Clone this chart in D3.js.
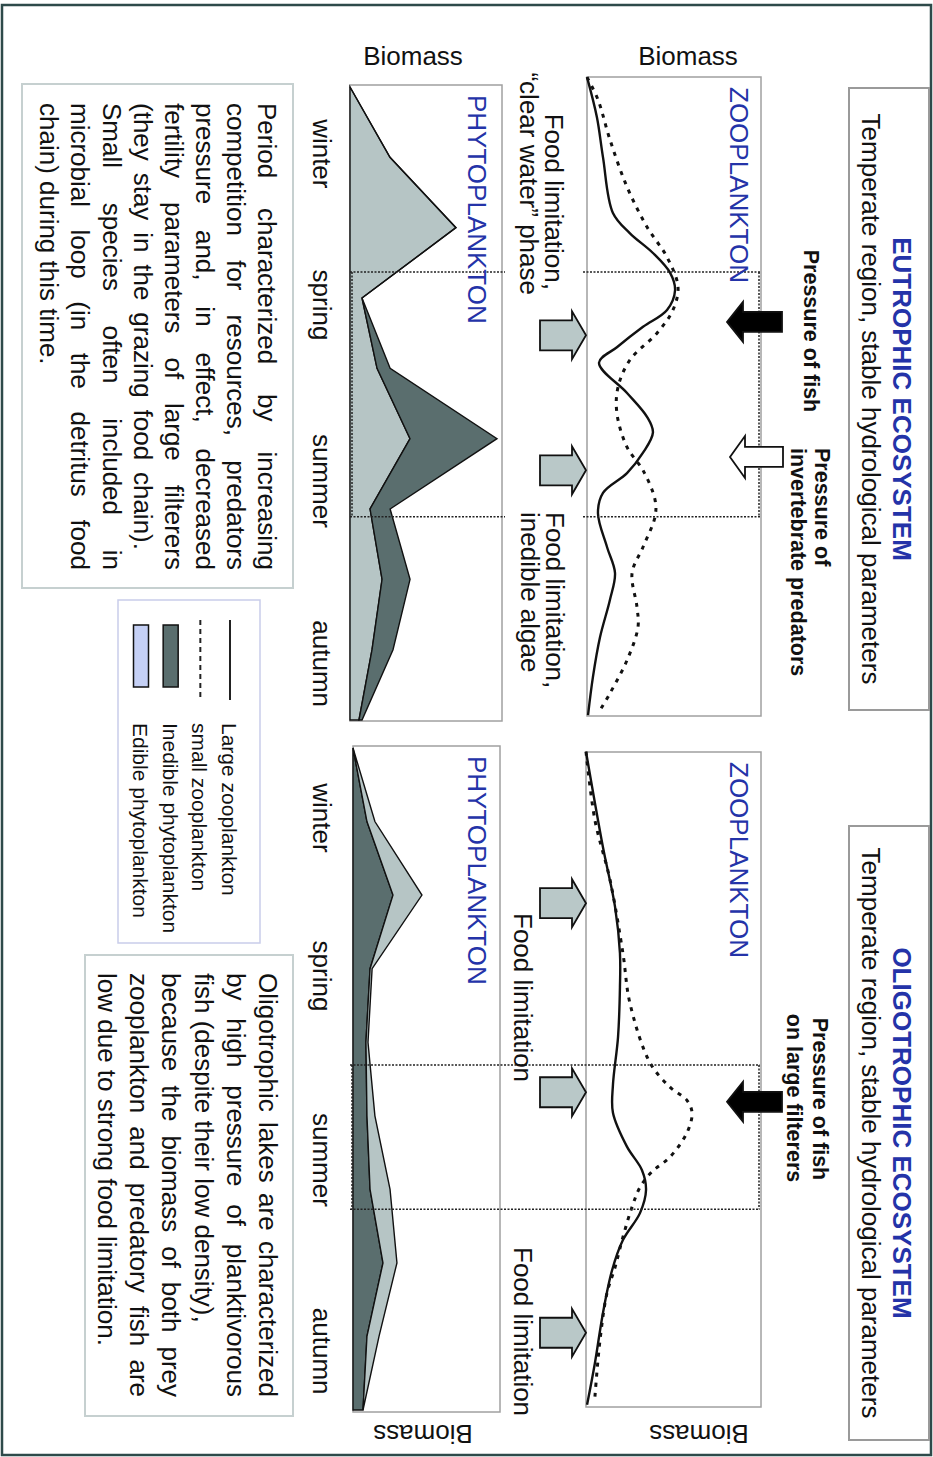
<!DOCTYPE html>
<html>
<head>
<meta charset="utf-8">
<script src="https://cdn.jsdelivr.net/npm/d3@7"></script>
<style>
  body { margin: 0; background: #fff; }
  svg { display: block; }
  text { font-family: "Liberation Sans", Arial, Helvetica, sans-serif; }
</style>
</head>
<body>
<div id="chart"></div>
<script>
// ---- data (time in sampling steps 0..9, biomass in relative units 0..100) ----
var seasons = ["winter", "spring", "summer", "autumn"];
var seasonT = [0.95, 3.1, 5.6, 8.2];

// eutrophic lake
var eutroLargeT = [-0.14, 0.43, 1.00, 1.79, 2.08, 2.36, 2.64, 2.89, 3.17, 3.41, 3.70, 3.92, 4.35, 4.69, 4.91, 5.20, 5.49, 5.77, 6.06, 6.54, 6.91, 7.29, 7.82, 8.39, 8.93];
var eutroLargeV = [0, 5.7, 9.2, 14.9, 24.7, 37.9, 47.7, 50.6, 46.0, 32.2, 17.2, 6.9, 23.0, 34.5, 37.9, 32.2, 23.0, 9.2, 6.3, 11.5, 16.1, 13.2, 7.5, 3.4, 0.6];
var eutroSmallT = [-0.14, 0.18, 0.75, 1.42, 1.99, 2.42, 2.84, 3.17, 3.50, 3.88, 4.27, 4.64, 5.12, 5.45, 5.87, 6.11, 6.54, 6.91, 7.39, 7.68, 8.15, 8.62, 8.86];
var eutroSmallV = [0, 6.3, 13.2, 23.0, 34.5, 46.0, 52.3, 49.4, 40.2, 24.7, 17.8, 17.2, 23.0, 32.2, 39.1, 39.1, 32.2, 25.9, 28.7, 29.3, 23.0, 13.2, 7.5];
var eutroEdible   = [0, 26.3, 69.7, 7.9, 17.8, 39.5, 13.2, 21.1, 14.5, 5.9];
var eutroInedible = [0, 0, 0, 0, 8.6, 57.2, 13.2, 18.4, 13.8, 2.0];
var eutroPhase = [2.63, 6.11];

// oligotrophic lake
var oligoLargeT = [0.05, 1.35, 2.16, 2.79, 3.25, 3.93, 4.58, 4.96, 5.42, 5.74, 6.01, 6.32, 6.69, 7.10, 7.68, 8.36, 8.93];
var oligoLargeV = [0, 9.7, 16.6, 19.4, 19.4, 18.3, 15.4, 15.4, 23.4, 32.0, 34.3, 30.9, 21.1, 14.9, 9.7, 5.1, 0.6];
var oligoSmallT = [0.05, 0.98, 1.79, 2.79, 3.47, 4.28, 4.61, 4.79, 4.96, 5.23, 5.56, 5.76, 5.97, 6.24, 6.65, 7.06, 7.41, 8.05, 8.82];
var oligoSmallV = [0, 5.1, 13.7, 21.1, 25.1, 36.6, 48.0, 57.7, 60.6, 57.7, 48.0, 37.7, 30.9, 26.3, 21.1, 16.6, 12.0, 8.0, 5.1];
var oligoInedible = [0, 9.5, 27.2, 11.6, 8.8, 9.5, 11.6, 20.4, 9.5, 6.8];
var oligoEdible   = [0, 5.4, 19.7, 1.4, 1.4, 5.4, 13.6, 9.5, 8.2, 0];
var oligoPhase = [4.31, 6.27];

var legendLabels = ["Large zooplankton", "small zooplankton", "Inedible phytoplankton", "Edible phytoplankton"];

var eutroText = [
  {s: "Period characterized by increasing", end: 570},
  {s: "competition for resources, predators", end: 570},
  {s: "pressure and, in effect, decreased", end: 570},
  {s: "fertility parameters of large filterers", end: 570},
  {s: "(they stay in the grazing food chain).", end: 550},
  {s: "Small species often included in", end: 570},
  {s: "microbial loop (in the detritus food", end: 570},
  {s: "chain) during this time.", end: null}
];
var oligoText = [
  {s: "Oligotrophic lakes are characterized", end: 1397},
  {s: "by high pressure of planktivorous", end: 1397},
  {s: "fish (despite their low density),", end: null},
  {s: "because the biomass of both prey", end: 1397},
  {s: "zooplankton and predatory fish are", end: 1397},
  {s: "low due to strong food limitation.", end: null}
];

// ---- drawing ----
var W = 933, H = 1457;
var blue = "#2433a8", dark = "#5a6e6e", light = "#b6c5c5", arrowGrey = "#b9c8c8";

var svg = d3.select("#chart").append("svg")
    .attr("width", W)
    .attr("height", H);
svg.append("rect").attr("width", W).attr("height", H).attr("fill", "#fff");

// the figure is landscape, turned a quarter clockwise
var g = svg.append("g").attr("transform", "translate(" + W + ",0) rotate(90)");

g.append("rect")
    .attr("x", 5).attr("y", 2).attr("width", 1450).attr("height", 929)
    .attr("fill", "none").attr("stroke", "#2e4a4a").attr("stroke-width", 2.5);

function zip(a, b) { return a.map(function(d, i) { return [d, b[i]]; }); }

function label(x, y, s, o) {
  o = o || {};
  var t = g.append("text")
      .attr("x", x).attr("y", y)
      .attr("font-size", o.size || 26)
      .attr("fill", o.fill || "#111")
      .attr("font-weight", o.bold ? "bold" : null)
      .attr("text-anchor", o.anchor || "start")
      .text(s);
  if (o.rotate) t.attr("transform", "rotate(" + o.rotate + "," + x + "," + y + ")");
  return t;
}

function arrow(cx, tail, base, tip, sw, hw, fill) {
  var pts = [[cx - sw, tail], [cx - sw, base], [cx - hw, base], [cx, tip],
             [cx + hw, base], [cx + sw, base], [cx + sw, tail]];
  g.append("path")
      .attr("d", d3.line()(pts) + "Z")
      .attr("fill", fill)
      .attr("stroke", "#111")
      .attr("stroke-width", 1.8)
      .attr("stroke-linejoin", "miter");
}

function drawSystem(c) {
  var x = d3.scaleLinear().domain([0, 9]).range(c.tRange);
  var yz = d3.scaleLinear().domain([0, 100]).range(c.zooY);
  var yp = d3.scaleLinear().domain([0, 100]).range(c.phyY);

  // title box
  g.append("rect").attr("x", c.title[0]).attr("y", 4)
      .attr("width", c.title[1] - c.title[0]).attr("height", 80)
      .attr("fill", "none").attr("stroke", "#9a9a9a").attr("stroke-width", 2);
  var tc = (c.title[0] + c.title[1]) / 2;
  label(tc, 40, c.name, {bold: true, fill: blue, anchor: "middle"});
  label(tc, 71, "Temperate region, stable hydrological parameters", {anchor: "middle"});

  // panel frames
  [c.zooBox, c.phyBox].forEach(function(b) {
    g.append("rect").attr("x", b[0]).attr("y", b[2])
        .attr("width", b[1] - b[0]).attr("height", b[3] - b[2])
        .attr("fill", "none").attr("stroke", "#a0a0a0").attr("stroke-width", 1.5);
  });

  // phytoplankton stacked areas
  var lower = c.lower, upper = c.upper;
  var area = d3.area().x(function(d, i) { return x(i); });
  g.append("path").datum(lower.values)
      .attr("d", area.y0(yp(0)).y1(function(d) { return yp(d); }))
      .attr("fill", lower.color).attr("stroke", "#111").attr("stroke-width", 1.4);
  var area2 = d3.area().x(function(d, i) { return x(i); })
      .y0(function(d, i) { return yp(lower.values[i]); })
      .y1(function(d, i) { return yp(lower.values[i] + d); });
  g.append("path").datum(upper.values)
      .attr("d", area2)
      .attr("fill", upper.color).attr("stroke", "#111").attr("stroke-width", 1.4);

  // zooplankton curves
  var line = d3.line()
      .x(function(d) { return x(d[0]); })
      .y(function(d) { return yz(d[1]); })
      .curve(d3.curveCatmullRom.alpha(0.5));
  g.append("path").datum(zip(c.smallT, c.smallV))
      .attr("d", line).attr("fill", "none").attr("stroke", "#111")
      .attr("stroke-width", 3).attr("stroke-dasharray", "4,6");
  g.append("path").datum(zip(c.largeT, c.largeV))
      .attr("d", line).attr("fill", "none").attr("stroke", "#111")
      .attr("stroke-width", 2.4);

  // dotted phase frame
  var dot = function(sel) {
    return sel.attr("fill", "none").attr("stroke", "#222")
        .attr("stroke-width", 1.5).attr("stroke-dasharray", "2,1.5");
  };
  c.phase.forEach(function(t) {
    c.phaseSegs.forEach(function(s) {
      dot(g.append("line").attr("x1", x(t)).attr("x2", x(t)).attr("y1", s[0]).attr("y2", s[1]));
    });
  });
  [174, 581].forEach(function(yy) {
    dot(g.append("line").attr("x1", x(c.phase[0])).attr("x2", x(c.phase[1]))
        .attr("y1", yy).attr("y2", yy));
  });

  // arrows
  c.grey.forEach(function(t) { arrow(x(t), 393, 361, 347, 15, 24, arrowGrey); });
  c.black.forEach(function(t) { arrow(x(t), 151, 190, 206, 10, 20, "#000"); });
  c.white.forEach(function(t) { arrow(x(t), 150, 188, 203, 10, 21, "#fff"); });

  // panel names, axis titles, seasons
  label(c.zooBox[0] + 10, 203, "ZOOPLANKTON", {fill: blue});
  label(c.phyBox[0] + 10, 465, "PHYTOPLANKTON", {fill: blue});
  c.biomass.forEach(function(b) {
    label(b[0], b[1], "Biomass", {anchor: "middle", rotate: b[2]});
  });
  seasons.forEach(function(s, i) {
    label(x(seasonT[i]), 620, s, {anchor: "middle"});
  });

  c.notes.forEach(function(n) {
    label(n[0], n[1], n[2], {anchor: n[3], bold: n[4], size: n[4] ? 21.5 : 26});
  });
}

drawSystem({
  name: "EUTROPHIC ECOSYSTEM",
  title: [88, 710],
  tRange: [87, 720],
  zooY: [346, 172], phyY: [583, 431],
  zooBox: [77, 716, 172, 346], phyBox: [85, 721, 431, 583],
  largeT: eutroLargeT, largeV: eutroLargeV,
  smallT: eutroSmallT, smallV: eutroSmallV,
  lower: {values: eutroEdible, color: light},
  upper: {values: eutroInedible, color: dark},
  phase: eutroPhase,
  phaseSegs: [[583, 428], [350, 173]],
  grey: [3.53, 5.45], black: [3.34], white: [5.26],
  biomass: [[65, 245, -90], [65, 520, -90]],
  notes: [
    [331, 129, "Pressure of fish", "middle", true],
    [448, 118, "Pressure of", "start", true],
    [448, 142, "invertebrate predators", "start", true],
    [290, 388, "Food limitation,", "end", false],
    [295, 413, "\u201cclear water\u201d phase", "end", false],
    [512, 387, "Food limitation,", "start", false],
    [512, 412, "inedible algae", "start", false]
  ]
});

drawSystem({
  name: "OLIGOTROPHIC ECOSYSTEM",
  title: [826, 1440],
  tRange: [748, 1410],
  zooY: [347, 172], phyY: [580, 433],
  zooBox: [752, 1407, 172, 347], phyBox: [746, 1412, 433, 580],
  largeT: oligoLargeT, largeV: oligoLargeV,
  smallT: oligoSmallT, smallV: oligoSmallV,
  lower: {values: oligoInedible, color: dark},
  upper: {values: oligoEdible, color: light},
  phase: oligoPhase,
  phaseSegs: [[583, 173]],
  grey: [2.11, 4.68, 7.95], black: [4.81], white: [],
  biomass: [[1425, 234, 90], [1425, 510, 90]],
  notes: [
    [1099, 120, "Pressure of fish", "middle", true],
    [1098, 146, "on  large filterers", "middle", true],
    [913, 419, "Food limitation", "start", false],
    [1247, 419, "Food limitation", "start", false]
  ]
});

// ---- justified text boxes ----
function textBox(box, lines, x0, y0, dy) {
  g.append("rect").attr("x", box[0]).attr("y", box[2])
      .attr("width", box[1] - box[0]).attr("height", box[3] - box[2])
      .attr("fill", "none").attr("stroke", "#c6d0d0").attr("stroke-width", 2);
  lines.forEach(function(l, i) {
    var words = l.s.split(" ");
    var nodes = words.map(function(w) {
      return g.append("text").attr("y", y0 + i * dy).attr("font-size", 26)
          .attr("fill", "#111").text(w);
    });
    var widths = nodes.map(function(n) { return n.node().getComputedTextLength(); });
    var gap = l.end ? (l.end - x0 - d3.sum(widths)) / (words.length - 1) : 26 * 0.278;
    var xx = x0;
    nodes.forEach(function(n, j) { n.attr("x", xx); xx += widths[j] + gap; });
  });
}
textBox([84, 588, 640, 911], eutroText, 103, 675, 31.1);
textBox([955, 1416, 640, 848], oligoText, 973, 674, 32.2);

// ---- legend ----
var leg = g.append("g");
leg.append("rect").attr("x", 600).attr("y", 673).attr("width", 343).attr("height", 142)
    .attr("fill", "none").attr("stroke", "#c9cdea").attr("stroke-width", 1.5);
var rowY = d3.scalePoint().domain(legendLabels).range([703, 792]);
leg.append("line").attr("x1", 620).attr("x2", 700)
    .attr("y1", rowY(legendLabels[0])).attr("y2", rowY(legendLabels[0]))
    .attr("stroke", "#222").attr("stroke-width", 2);
leg.append("line").attr("x1", 620).attr("x2", 700)
    .attr("y1", rowY(legendLabels[1])).attr("y2", rowY(legendLabels[1]))
    .attr("stroke", "#222").attr("stroke-width", 2).attr("stroke-dasharray", "5,4");
[[legendLabels[2], dark], [legendLabels[3], "#c5d0f5"]].forEach(function(s) {
  leg.append("rect").attr("x", 625).attr("y", rowY(s[0]) - 7.5)
      .attr("width", 62).attr("height", 15)
      .attr("fill", s[1]).attr("stroke", "#111").attr("stroke-width", 1.5);
});
legendLabels.forEach(function(s) {
  leg.append("text").attr("x", 723).attr("y", rowY(s) + 8)
      .attr("font-size", 21).attr("fill", "#111").text(s);
});
</script>
</body>
</html>
